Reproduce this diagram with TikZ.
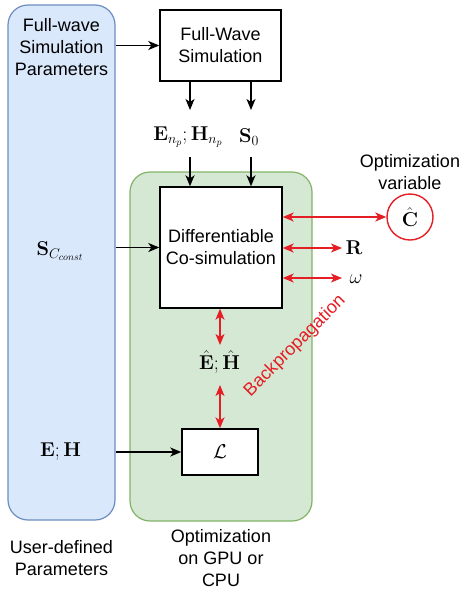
\RequirePackage{fix-cm}
\documentclass[tikz,border=0pt]{standalone}
\usepackage[no-math]{fontspec}
\setmainfont{Liberation Sans}
\usetikzlibrary{arrows.meta}
\definecolor{panelblue}{RGB}{218,232,252}
\definecolor{panelblueline}{RGB}{108,142,191}
\definecolor{panelgreen}{RGB}{213,232,212}
\definecolor{panelgreenline}{RGB}{130,179,102}
\definecolor{gradred}{RGB}{228,30,36}
\tikzset{
  panel/.style={rounded corners=20pt, line width=1.2pt, minimum width=#1},
  blockbox/.style={draw=black, fill=white, line width=1.4pt, align=center, inner sep=0pt},
  lbl/.style={align=center, inner sep=0pt},
  mathlbl/.style={inner sep=0pt, font=\fontsize{20}{24}\selectfont},
  flow/.style={-{Stealth[length=11pt,width=9pt,inset=3pt]}, line width=1.4pt, black},
  grad/.style={{Stealth[length=11pt,width=9pt,inset=3pt]}-{Stealth[length=11pt,width=9pt,inset=3pt]}, line width=1.4pt, draw=gradred},
}
\begin{document}
\begin{tikzpicture}[x=1pt,y=-1pt,font=\fontsize{18}{22}\selectfont]
\useasboundingbox (0,0) rectangle (460,592);

% background panels
\node[panel=107pt, draw=panelblueline, fill=panelblue, minimum height=515pt] (user) at (61.5,262.5) {};
\node[panel=182pt, draw=panelgreenline, fill=panelgreen, minimum height=349pt] (opt) at (221,346.5) {};

% blocks
\node[blockbox, minimum width=121pt, minimum height=71pt] (fw) at (220.5,45.5) {Full-Wave\\Simulation};
\node[blockbox, minimum width=122pt, minimum height=121pt] (diff) at (221,247.5) {Differentiable\\Co-simulation};
\node[blockbox, minimum width=76pt, minimum height=46pt, font=\fontsize{20}{24}\selectfont] (loss) at (220,452) {$\mathcal{L}$};
\node[draw=gradred, fill=white, circle, line width=1.4pt, minimum size=46pt, inner sep=0pt, font=\fontsize{20}{24}\selectfont] (chat) at (410,217) {$\hat{\mathbf{C}}$};

% labels in the user panel
\node[lbl] (fwp) at (61.5,47) {Full-wave\\Simulation\\Parameters};
\node[mathlbl] (sc) at (60,251) {$\mathbf{S}_{C_{const}}$};
\node[mathlbl] (eh) at (60.5,452) {$\mathbf{E};\mathbf{H}$};
\node[lbl] (userlbl) at (61.5,558) {User-defined\\Parameters};

% outputs of the full-wave solver
\node[mathlbl] (enp) at (188,137) {$\mathbf{E}_{n_p};\mathbf{H}_{n_p}$};
\node[mathlbl] (s0) at (249,137) {$\mathbf{S}_0$};
\coordinate (enpTop) at (190,110);
\coordinate (enpBot) at (190,157);
\coordinate (s0Top) at (251,110);
\coordinate (s0Bot) at (251,157);

% optimisation side labels
\node[mathlbl] (ehat) at (219.5,362) {$\hat{\mathbf{E}};\hat{\mathbf{H}}$};
\coordinate (ehatTop) at (220,345);
\coordinate (ehatBot) at (220,385);
\node[mathlbl] (R) at (354,248) {$\mathbf{R}$};
\node[mathlbl] (w) at (356,279) {$\omega$};
\coordinate (Rend) at (342,248);
\coordinate (wend) at (342,278);
\node[lbl] (optvar) at (410,172) {Optimization\\variable};
\node[lbl] (optlbl) at (221,558) {Optimization\\on GPU or\\CPU};
\node[lbl, text=gradred, rotate=45] (bp) at (295,346) {Backpropagation};

% forward connectors
\draw[flow] (user.east |- fw.west) -- (fw.west);
\draw[flow] (fw.south -| enpTop) -- (enpTop);
\draw[flow] (fw.south -| s0Top) -- (s0Top);
\draw[flow] (enpBot) -- (diff.north -| enpBot);
\draw[flow] (s0Bot) -- (diff.north -| s0Bot);
\draw[flow] (user.east |- diff.west) -- (diff.west);
\draw[flow] (user.east |- loss.west) -- (loss.west);

% gradient connectors
\draw[grad] (diff.east |- chat.west) -- (chat.west);
\draw[grad] (diff.east |- Rend) -- (Rend);
\draw[grad] (diff.east |- wend) -- (wend);
\draw[grad] (diff.south -| ehatTop) -- (ehatTop);
\draw[grad] (ehatBot) -- (loss.north -| ehatBot);
\end{tikzpicture}
\end{document}
